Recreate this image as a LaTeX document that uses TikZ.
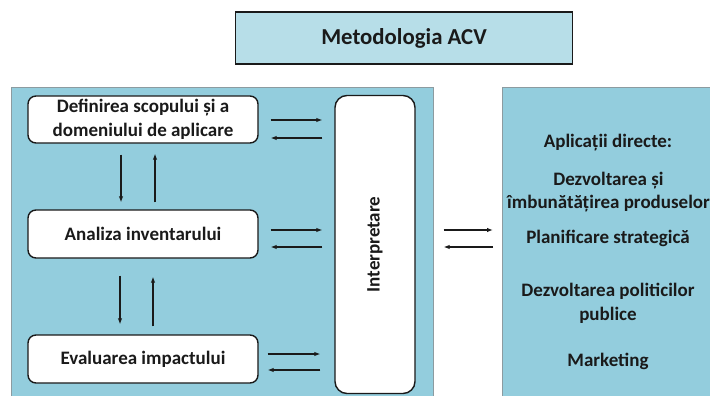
\documentclass[tikz,border=0pt]{standalone}
\usepackage{fontspec}
\setmainfont{Carlito}
\usetikzlibrary{calc,arrows.meta}
\definecolor{panel}{HTML}{93CDDD}
\definecolor{titlefill}{HTML}{B7DEE8}
\definecolor{ink}{HTML}{1A1A1A}
\definecolor{edgegray}{HTML}{8C9BA0}
\begin{document}
\begin{tikzpicture}[x=1pt,y=-1pt,
  txt/.style={font=\fontsize{19}{23.5}\selectfont\bfseries, text=ink, align=center},
  box/.style={txt, draw=ink, line width=1.4pt, fill=white, rounded corners=8pt, inner sep=0pt},
  panelbox/.style={draw=edgegray, line width=0.8pt, fill=panel, inner sep=0pt},
  arr/.style={-{Latex[length=6pt,width=4.5pt]}, line width=1.1pt, draw=ink}]
\useasboundingbox (0,0) rectangle (710,396);
\clip (0,0) rectangle (710,396);
\fill[white] (0,0) rectangle (710,396);
% title
\node[draw=ink, line width=1.4pt, fill=titlefill, minimum width=337, minimum height=52,
      inner sep=0pt, font=\fontsize{22.8}{26}\selectfont\bfseries, text=ink] (title) at (404,38) {Metodologia ACV};
% panels
\node[panelbox, minimum width=422, minimum height=330, anchor=north west] (leftpanel) at (10.5,87) {};
\node[panelbox, minimum width=230, minimum height=330, anchor=north west] (rightpanel) at (502,87) {};
% left boxes
\node[box, minimum width=230, minimum height=47] (def) at (143,119.5) {Definirea scopului și a\\domeniului de aplicare};
\node[box, minimum width=230, minimum height=48] (ana) at (143,234) {Analiza inventarului};
\node[box, minimum width=230, minimum height=48] (eva) at (143,359) {Evaluarea impactului};
\node[box, rounded corners=12pt, minimum width=80, minimum height=298] (interp) at (375,244.5) {};
\node[txt, rotate=90] (interplabel) at (interp.center) {Interpretare};
% horizontal arrows to/from Interpretare
\draw[arr] ($(def.east)+(12,0.5)$) -- ($(def.east -| interp.west)+(-12,0.5)$);
\draw[arr] ($(def.east -| interp.west)+(-12,18.5)$) -- ($(def.east)+(12,18.5)$);
\draw[arr] ($(ana.east)+(12,-4)$) -- ($(ana.east -| interp.west)+(-12,-4)$);
\draw[arr] ($(ana.east -| interp.west)+(-12,13)$) -- ($(ana.east)+(12,13)$);
\draw[arr] ($(eva.east)+(9,-5)$) -- ($(eva.east -| interp.west)+(-14,-5)$);
\draw[arr] ($(eva.east -| interp.west)+(-14,11)$) -- ($(eva.east)+(9,11)$);
% vertical arrows
\draw[arr] ($(def.south)+(-22,11)$) -- ($(def.south |- ana.north)+(-22,-7)$);
\draw[arr] ($(def.south |- ana.north)+(12,-7)$) -- ($(def.south)+(12,10)$);
\draw[arr] ($(ana.south)+(-23,17)$) -- ($(ana.south |- eva.north)+(-23,-10)$);
\draw[arr] ($(ana.south |- eva.north)+(10,-8)$) -- ($(ana.south)+(10,18)$);
% arrows between panels
\draw[arr] ($(interp.east |- ana.east)+(28,-4)$) -- ($(rightpanel.west |- ana.east)+(-9,-4)$);
\draw[arr] ($(rightpanel.west |- ana.east)+(-9,13)$) -- ($(interp.east |- ana.east)+(28,13)$);
% right panel texts
\node[txt] (app) at (608,143) {Aplicații directe:};
\node[txt] (prod) at (608.5,192) {Dezvoltarea și\\îmbunătățirea produselor};
\node[txt] (plan) at (608,238) {Planificare strategică};
\node[txt] (pol) at (608,303.5) {Dezvoltarea politicilor\\publice};
\node[txt] (mkt) at (608,361) {Marketing};
\end{tikzpicture}
\end{document}
